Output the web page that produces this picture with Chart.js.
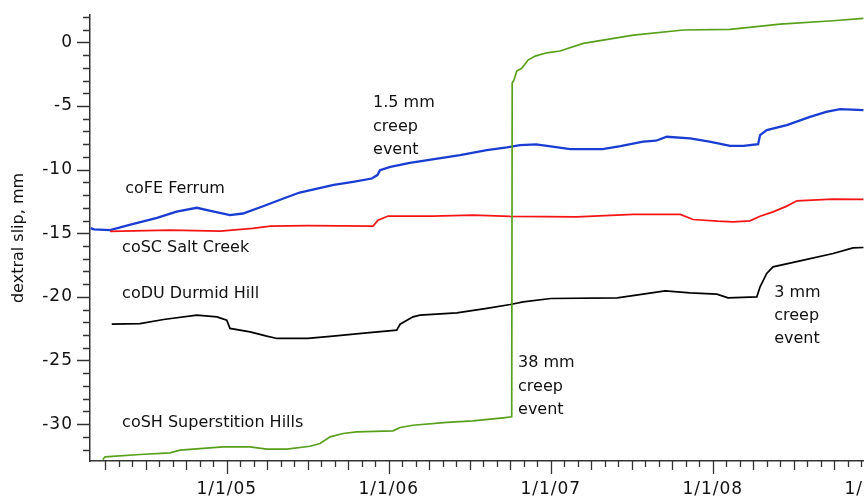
<!DOCTYPE html>
<html>
<head>
<meta charset="utf-8">
<script src="https://cdn.jsdelivr.net/npm/chart.js@4"></script>
<style>
  html, body { margin: 0; padding: 0; overflow: hidden; background: #fff; }
  #wrap { width: 960px; height: 498px; }
</style>
</head>
<body>
<div id="wrap"><canvas id="slipChart"></canvas></div>
<script>
// decimal years and dextral slip (mm)
const ferrumYears = [2004.16, 2004.18, 2004.28, 2004.40, 2004.57, 2004.69, 2004.815, 2004.90, 2005.02, 2005.10, 2005.22, 2005.35, 2005.45, 2005.66, 2005.78, 2005.895, 2005.93, 2005.946, 2006.01, 2006.13, 2006.27, 2006.44, 2006.605, 2006.73, 2006.81, 2006.91, 2007.01, 2007.12, 2007.32, 2007.43, 2007.57, 2007.65, 2007.716, 2007.86, 2007.98, 2008.107, 2008.19, 2008.28, 2008.292, 2008.333, 2008.457, 2008.60, 2008.70, 2008.786, 2008.93];
const ferrumSlip = [-14.6, -14.7, -14.75, -14.35, -13.8, -13.3, -13.0, -13.24, -13.58, -13.45, -12.9, -12.27, -11.8, -11.2, -10.96, -10.7, -10.43, -10.04, -9.78, -9.47, -9.2, -8.86, -8.47, -8.26, -8.07, -8.02, -8.2, -8.39, -8.39, -8.15, -7.8, -7.73, -7.42, -7.55, -7.8, -8.13, -8.13, -8.0, -7.29, -6.9, -6.5, -5.85, -5.46, -5.24, -5.32];

const saltCreekYears = [2004.28, 2004.65, 2004.96, 2005.16, 2005.27, 2005.50, 2005.903, 2005.934, 2005.996, 2006.27, 2006.52, 2006.75, 2007.16, 2007.51, 2007.80, 2007.878, 2008.03, 2008.125, 2008.23, 2008.292, 2008.372, 2008.457, 2008.519, 2008.74, 2008.93];
const saltCreekSlip = [-14.85, -14.76, -14.83, -14.62, -14.44, -14.4, -14.44, -13.97, -13.65, -13.65, -13.58, -13.68, -13.71, -13.52, -13.52, -13.92, -14.05, -14.1, -14.03, -13.66, -13.32, -12.87, -12.45, -12.32, -12.34];

const durmidYears = [2004.29, 2004.465, 2004.61, 2004.815, 2004.94, 2005.0, 2005.02, 2005.144, 2005.247, 2005.31, 2005.50, 2005.656, 2005.864, 2006.049, 2006.07, 2006.15, 2006.193, 2006.42, 2006.605, 2006.75, 2006.83, 2007.0, 2007.41, 2007.57, 2007.706, 2007.86, 2008.025, 2008.094, 2008.272, 2008.292, 2008.333, 2008.372, 2008.539, 2008.743, 2008.866, 2008.93];
const durmidSlip = [-22.15, -22.1, -21.78, -21.44, -21.57, -21.83, -22.48, -22.75, -23.09, -23.27, -23.27, -23.09, -22.83, -22.62, -22.15, -21.57, -21.44, -21.26, -20.91, -20.6, -20.39, -20.13, -20.08, -19.79, -19.53, -19.68, -19.79, -20.08, -20.0, -19.21, -18.16, -17.64, -17.17, -16.59, -16.15, -16.12];

const superstitionYears = [2004.235, 2004.249, 2004.465, 2004.65, 2004.712, 2004.835, 2004.977, 2005.144, 2005.247, 2005.37, 2005.514, 2005.576, 2005.638, 2005.718, 2005.802, 2006.027, 2006.07, 2006.15, 2006.358, 2006.52, 2006.706, 2006.759, 2006.762, 2006.773, 2006.79, 2006.821, 2006.86, 2006.904, 2006.975, 2007.057, 2007.201, 2007.51, 2007.819, 2008.107, 2008.415, 2008.743, 2008.93];
const superstitionSlip = [-32.78, -32.58, -32.39, -32.26, -32.05, -31.92, -31.79, -31.79, -31.97, -31.97, -31.74, -31.53, -31.0, -30.74, -30.61, -30.53, -30.27, -30.09, -29.87, -29.75, -29.51, -29.43, -3.2, -2.96, -2.25, -2.04, -1.39, -1.08, -0.82, -0.68, -0.08, 0.57, 0.97, 1.02, 1.44, 1.7, 1.89];

const xTickLabels = { 2005: "1/1/05", 2006: "1/1/06", 2007: "1/1/07", 2008: "1/1/08", 2009: "1/1/09" };
const yTickLabels = [0, -5, -10, -15, -20, -25, -30];

// text notes placed at (year, slip)
const notes = [
  { lines: ["coFE Ferrum"], x: 2004.373, y: -11.53 },
  { lines: ["coSC Salt Creek"], x: 2004.354, y: -16.17 },
  { lines: ["coDU Durmid Hill"], x: 2004.354, y: -19.75 },
  { lines: ["coSH Superstition Hills"], x: 2004.354, y: -29.87 },
  { lines: ["1.5 mm", "creep", "event"], x: 2005.903, y: -4.77 },
  { lines: ["38 mm", "creep", "event"], x: 2006.798, y: -25.21 },
  { lines: ["3 mm", "creep", "event"], x: 2008.379, y: -19.67 },
];

const FONT = '"DejaVu Sans", sans-serif';
const AXIS = "#333";

function toPoints(xs, ys) {
  return xs.map((x, i) => ({ x: x, y: ys[i] }));
}

// tick marks (yearly / quarterly / monthly, 5 / 1 mm) and their labels
const axisTicks = {
  id: "axisTicks",
  afterDraw(chart) {
    const ctx = chart.ctx;
    const xs = chart.scales.x;
    const ys = chart.scales.y;
    ctx.save();
    ctx.strokeStyle = AXIS;
    ctx.lineWidth = 1.3;
    ctx.beginPath();
    xs.ticks.forEach((t) => {
      const px = Math.round(xs.getPixelForValue(t.value)) + 0.5;
      const m = Math.round(t.value * 12) % 12;
      const len = m === 0 ? 13 : m % 3 === 0 ? 9 : 6;
      ctx.moveTo(px, xs.top);
      ctx.lineTo(px, xs.top + len);
    });
    ys.ticks.forEach((t) => {
      const py = Math.round(ys.getPixelForValue(t.value)) + 0.5;
      const len = t.value % 5 === 0 ? 13 : 7;
      ctx.moveTo(ys.right, py);
      ctx.lineTo(ys.right - len, py);
    });
    ctx.stroke();

    ctx.fillStyle = "#111";
    ctx.font = "17px " + FONT;
    ctx.letterSpacing = "1px";
    ctx.textBaseline = "middle";
    ctx.textAlign = "center";
    Object.keys(xTickLabels).forEach((yr) => {
      ctx.fillText(xTickLabels[yr], xs.getPixelForValue(Number(yr)), xs.top + 29);
    });
    ctx.textAlign = "right";
    yTickLabels.forEach((v) => {
      ctx.fillText(String(v), ys.right - 17, ys.getPixelForValue(v));
    });
    ctx.restore();
  },
};

const notesPlugin = {
  id: "notes",
  afterDatasetsDraw(chart) {
    const ctx = chart.ctx;
    const xs = chart.scales.x;
    const ys = chart.scales.y;
    ctx.save();
    ctx.font = "16px " + FONT;
    ctx.fillStyle = "#111";
    ctx.textAlign = "left";
    ctx.textBaseline = "middle";
    notes.forEach((n) => {
      const px = xs.getPixelForValue(n.x);
      const py = ys.getPixelForValue(n.y);
      n.lines.forEach((line, i) => ctx.fillText(line, px, py + i * 23.3));
    });
    ctx.restore();
  },
};

const ctx = document.getElementById("slipChart").getContext("2d");
new Chart(ctx, {
  type: "line",
  data: {
    datasets: [
      { label: "coSH Superstition Hills", data: toPoints(superstitionYears, superstitionSlip), borderColor: "rgb(88, 160, 28)", borderWidth: 1.7 },
      { label: "coDU Durmid Hill", data: toPoints(durmidYears, durmidSlip), borderColor: "#000", borderWidth: 1.7 },
      { label: "coSC Salt Creek", data: toPoints(saltCreekYears, saltCreekSlip), borderColor: "rgb(245, 20, 20)", borderWidth: 1.7 },
      { label: "coFE Ferrum", data: toPoints(ferrumYears, ferrumSlip), borderColor: "rgb(25, 60, 210)", borderWidth: 2.3 },
    ],
  },
  options: {
    responsive: true,
    maintainAspectRatio: false,
    animation: false,
    layout: { padding: { top: 15, left: 0, right: 0, bottom: 0 } },
    elements: { point: { radius: 0 }, line: { tension: 0 } },
    plugins: { legend: { display: false }, tooltip: { enabled: false } },
    scales: {
      x: {
        type: "linear",
        min: 2004.156,
        max: 2009.526,
        grid: { display: false, drawTicks: false },
        border: { display: true, color: AXIS, width: 1.5 },
        ticks: { display: false },
        afterFit: (scale) => { scale.height = 37; },
        afterBuildTicks: (scale) => {
          const ticks = [];
          for (let m = 2004 * 12 + 3; m <= 2009 * 12 + 6; m++) ticks.push({ value: m / 12 });
          scale.ticks = ticks;
        },
      },
      y: {
        type: "linear",
        min: -32.9,
        max: 2.15,
        grid: { display: false, drawTicks: false },
        border: { display: true, color: AXIS, width: 1.5 },
        ticks: { display: false },
        afterFit: (scale) => { scale.width = 90; },
        afterBuildTicks: (scale) => {
          const ticks = [];
          for (let v = -32; v <= 2; v++) ticks.push({ value: v });
          scale.ticks = ticks;
        },
        title: {
          display: true,
          text: "dextral slip, mm",
          color: "#111",
          font: { family: FONT, size: 16 },
          padding: { top: 9, bottom: 0 },
        },
      },
    },
  },
  plugins: [axisTicks, notesPlugin],
});
</script>
</body>
</html>
